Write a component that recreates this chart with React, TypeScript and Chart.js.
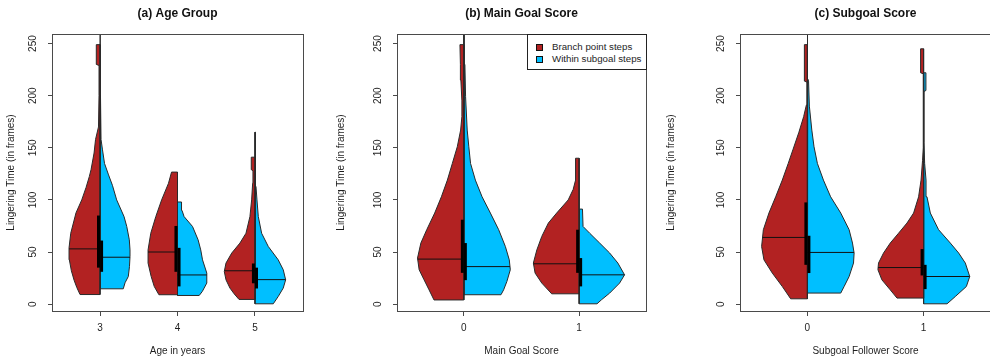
import React, { useEffect, useRef } from 'react';
import Chart from 'chart.js/auto';

const FONT = "'Liberation Sans', Arial, Helvetica, sans-serif";
const RED = '#B22222';
const BLUE = '#00BFFF';
const OUTLINE = '#2a2a2a';
const TEXT = '#1e1e1e';
const FRAME = '#4a4a4a';

const Y_TICKS = [0, 50, 100, 150, 200, 250];

// ---- (a) Age Group ----  shapes: [value, half-width in category units]
const AGE_POS = [3, 4, 5];
const AGE_LABELS = ['3', '4', '5'];
const AGE3_BRANCH: [number, number][] = [[9.2, 0.258], [16, 0.3], [23, 0.335], [32, 0.37], [42.5, 0.396], [54, 0.4], [68, 0.378], [87.6, 0.31], [100, 0.236], [112, 0.18], [122.5, 0.138], [129, 0.116], [145, 0.077], [158, 0.058], [170, 0.02], [200, 0.013], [229, 0.013], [230, 0.048], [249, 0.048]];
const AGE3_WITHIN: [number, number][] = [[14.7, 0.3], [20.5, 0.323], [26.5, 0.365], [36, 0.38], [45.7, 0.387], [52, 0.387], [61.7, 0.378], [74.5, 0.345], [84, 0.31], [100, 0.215], [114, 0.16], [124, 0.11], [135, 0.058], [148, 0.032], [158, 0.013], [200, 0.006], [275, 0.006]];
const AGE4_BRANCH: [number, number][] = [[9, 0.24], [16.9, 0.3], [26.5, 0.34], [39.4, 0.38], [52, 0.38], [68, 0.345], [84, 0.28], [100, 0.205], [116, 0.116], [126.7, 0.077]];
const AGE4_WITHIN: [number, number][] = [[8.3, 0.28], [12.1, 0.32], [20.2, 0.378], [29.8, 0.378], [42.5, 0.323], [52, 0.3], [61.7, 0.266], [74.5, 0.194], [84, 0.085], [90, 0.058], [98, 0.052]];
const AGE5_BRANCH: [number, number][] = [[4.5, 0.206], [10, 0.27], [15.4, 0.323], [23.3, 0.374], [31.3, 0.396], [39.4, 0.374], [49, 0.3], [58.6, 0.194], [68, 0.116], [84, 0.065], [100, 0.043], [116, 0.03], [128, 0.026], [129, 0.048], [141, 0.048]];
const AGE5_WITHIN: [number, number][] = [[0.3, 0.236], [7.3, 0.3], [15.4, 0.365], [23.3, 0.396], [33, 0.365], [42.5, 0.3], [55.3, 0.172], [68, 0.086], [84, 0.043], [100, 0.026], [113, 0.013], [130, 0.006], [165, 0.006]];
const AGE_BRANCH_MEDIAN = [53, 50, 32];
const AGE_BRANCH_Q1 = [35, 31, 20];
const AGE_BRANCH_Q3 = [85, 75, 39];
const AGE_WITHIN_MEDIAN = [45, 28, 23.5];
const AGE_WITHIN_Q1 = [31, 17, 15];
const AGE_WITHIN_Q3 = [61, 54, 35];

// ---- (b) Main Goal Score ----
const MG_POS = [0, 1];
const MG_LABELS = ['0', '1'];
const MG0_BRANCH: [number, number][] = [[4, 0.259], [13.7, 0.302], [23.3, 0.345], [33, 0.388], [44.2, 0.402], [58.6, 0.373], [71.4, 0.322], [87.4, 0.253], [103, 0.195], [119, 0.143], [135, 0.1], [151, 0.057], [167, 0.028], [180, 0.017], [195, 0.017], [215, 0.026], [230, 0.03], [249, 0.034]];
const MG0_WITHIN: [number, number][] = [[9, 0.322], [13.7, 0.345], [21.7, 0.373], [33, 0.403], [42.5, 0.394], [55.3, 0.36], [71.4, 0.302], [87.4, 0.23], [103, 0.158], [119, 0.1], [135, 0.058], [151, 0.043], [167, 0.029], [199, 0.015], [230, 0.009], [232, 0.003], [275, 0.003]];
const MG1_BRANCH: [number, number][] = [[9.9, 0.238], [20.2, 0.324], [29.8, 0.382], [39.4, 0.397], [52, 0.367], [65, 0.324], [77.8, 0.267], [87.4, 0.195], [100, 0.095], [110, 0.052], [119, 0.031], [140, 0.031]];
const MG1_WITHIN: [number, number][] = [[0.3, 0.155], [4.1, 0.193], [10.6, 0.265], [20.2, 0.351], [28.1, 0.394], [39.4, 0.336], [49, 0.265], [58.6, 0.178], [68, 0.092], [74.5, 0.034], [91.2, 0.029]];
const MG_BRANCH_MEDIAN = [43.2, 38.7];
const MG_BRANCH_Q1 = [30, 30];
const MG_BRANCH_Q3 = [81, 71.4];
const MG_WITHIN_MEDIAN = [36, 28.1];
const MG_WITHIN_Q1 = [23, 17];
const MG_WITHIN_Q3 = [58.6, 44.2];

// ---- (c) Subgoal Score ----
const SG_POS = [0, 1];
const SG_LABELS = ['0', '1'];
const SG0_BRANCH: [number, number][] = [[5.1, 0.144], [16.9, 0.216], [29.8, 0.302], [42.5, 0.374], [55.3, 0.394], [71.4, 0.379], [87.4, 0.331], [103, 0.273], [119, 0.216], [135, 0.165], [148, 0.125], [165, 0.073], [180, 0.032], [191, 0.009], [213, 0.004], [214, 0.026], [249, 0.026]];
const SG0_WITHIN: [number, number][] = [[10.6, 0.287], [16.9, 0.316], [26.5, 0.359], [39.4, 0.397], [49, 0.402], [58.6, 0.388], [71.4, 0.359], [87.4, 0.287], [103, 0.2], [119, 0.138], [135, 0.086], [151, 0.057], [167, 0.038], [190, 0.017], [214, 0.01], [216, 0.003], [275, 0.003]];
const SG1_BRANCH: [number, number][] = [[5.8, 0.229], [13.7, 0.287], [23.3, 0.359], [33, 0.393], [39.4, 0.388], [49, 0.345], [58.6, 0.287], [68, 0.216], [77.8, 0.143], [87.4, 0.086], [103, 0.043], [119, 0.022], [138, 0.009], [150, 0.003], [221, 0.003], [222, 0.026], [245, 0.026]];
const SG1_WITHIN: [number, number][] = [[0.3, 0.202], [7.3, 0.273], [16.9, 0.368], [26.5, 0.397], [39.4, 0.359], [49, 0.302], [58.6, 0.23], [71.4, 0.129], [87.4, 0.058], [103, 0.029], [119, 0.021], [135, 0.009], [155, 0.003], [204, 0.003], [205, 0.02], [222, 0.02]];
const SG_BRANCH_MEDIAN = [64, 35.1];
const SG_BRANCH_Q1 = [37.7, 27.5];
const SG_BRANCH_Q3 = [97.6, 52.8];
const SG_WITHIN_MEDIAN = [49.6, 26.5];
const SG_WITHIN_Q1 = [29.8, 14.4];
const SG_WITHIN_Q3 = [65.6, 37.7];

const LEGEND_LABELS = ['Branch point steps', 'Within subgoal steps'];

type Shape = [number, number][];

function widthAt(shape: Shape, v: number) {
  if (v <= shape[0][0]) return shape[0][1];
  for (let i = 1; i < shape.length; i++) {
    const [y0, w0] = shape[i - 1];
    const [y1, w1] = shape[i];
    if (v <= y1) return w0 + ((w1 - w0) * (v - y0)) / (y1 - y0);
  }
  return shape[shape.length - 1][1];
}

function halfPolygon(center: number, shape: Shape, side: number) {
  const pts = [{ x: center, y: shape[0][0] }];
  for (const [y, w] of shape) pts.push({ x: center + side * w, y });
  pts.push({ x: center, y: shape[shape.length - 1][0] });
  pts.push({ x: center, y: shape[0][0] });
  return pts;
}

function buildDatasets(p: any) {
  const ds: any[] = [];
  p.pos.forEach((c: number, i: number) => {
    const halves = [
      { shape: p.branch[i], side: -1, color: RED, med: p.bMed[i], q1: p.bQ1[i], q3: p.bQ3[i] },
      { shape: p.within[i], side: 1, color: BLUE, med: p.wMed[i], q1: p.wQ1[i], q3: p.wQ3[i] },
    ];
    halves.forEach((h) => {
      ds.push({
        data: halfPolygon(c, h.shape, h.side),
        backgroundColor: h.color,
        borderColor: OUTLINE,
        borderWidth: 1,
        fill: 'shape',
        pointRadius: 0,
        tension: 0,
        order: 3,
      });
      ds.push({
        data: [
          { x: c, y: h.med },
          { x: c + h.side * widthAt(h.shape, h.med), y: h.med },
        ],
        borderColor: '#111',
        borderWidth: 1,
        fill: false,
        pointRadius: 0,
        order: 2,
      });
      ds.push({
        data: [
          { x: c + h.side * p.boxOff, y: h.q1 },
          { x: c + h.side * p.boxOff, y: h.q3 },
        ],
        borderColor: '#000',
        borderWidth: 3,
        borderCapStyle: 'butt',
        fill: false,
        pointRadius: 0,
        order: 1,
      });
    });
  });
  return ds;
}

const framePlugin = {
  id: 'frame',
  afterDatasetsDraw(chart: any) {
    const { ctx, chartArea: a } = chart;
    ctx.save();
    ctx.strokeStyle = FRAME;
    ctx.lineWidth = 1;
    ctx.strokeRect(Math.round(a.left) + 0.5, Math.round(a.top) + 0.5, Math.round(a.right - a.left), Math.round(a.bottom - a.top));
    ctx.restore();
  },
};

const PANELS = [
  {
    key: 'a', left: 0, width: 330, chartLeft: 52, chartRight: 303,
    title: '(a) Age Group', xTitle: 'Age in years',
    xMin: 2.38, xMax: 5.62, pos: AGE_POS, labels: AGE_LABELS, boxOff: 0.02,
    branch: [AGE3_BRANCH, AGE4_BRANCH, AGE5_BRANCH], within: [AGE3_WITHIN, AGE4_WITHIN, AGE5_WITHIN],
    bMed: AGE_BRANCH_MEDIAN, bQ1: AGE_BRANCH_Q1, bQ3: AGE_BRANCH_Q3,
    wMed: AGE_WITHIN_MEDIAN, wQ1: AGE_WITHIN_Q1, wQ3: AGE_WITHIN_Q3,
  },
  {
    key: 'b', left: 330, width: 330, chartLeft: 67, chartRight: 316,
    title: '(b) Main Goal Score', xTitle: 'Main Goal Score',
    xMin: -0.58, xMax: 1.58, pos: MG_POS, labels: MG_LABELS, boxOff: 0.013,
    branch: [MG0_BRANCH, MG1_BRANCH], within: [MG0_WITHIN, MG1_WITHIN],
    bMed: MG_BRANCH_MEDIAN, bQ1: MG_BRANCH_Q1, bQ3: MG_BRANCH_Q3,
    wMed: MG_WITHIN_MEDIAN, wQ1: MG_WITHIN_Q1, wQ3: MG_WITHIN_Q3,
  },
  {
    key: 'c', left: 660, width: 360, chartLeft: 80, chartRight: 331,
    title: '(c) Subgoal Score', xTitle: 'Subgoal Follower Score',
    xMin: -0.58, xMax: 1.58, pos: SG_POS, labels: SG_LABELS, boxOff: 0.013,
    branch: [SG0_BRANCH, SG1_BRANCH], within: [SG0_WITHIN, SG1_WITHIN],
    bMed: SG_BRANCH_MEDIAN, bQ1: SG_BRANCH_Q1, bQ3: SG_BRANCH_Q3,
    wMed: SG_WITHIN_MEDIAN, wQ1: SG_WITHIN_Q1, wQ3: SG_WITHIN_Q3,
  },
];

const CHART_TOP = 34;
const CHART_BOTTOM = 311;
const HEIGHT = 360;

function Panel({ p }: { p: any }) {
  const ref = useRef<HTMLCanvasElement | null>(null);
  useEffect(() => {
    if (!ref.current) return;
    const tickFont = { family: FONT, size: 10 };
    const chart = new Chart(ref.current, {
      type: 'line',
      data: { datasets: buildDatasets(p) },
      plugins: [framePlugin],
      options: {
        animation: false,
        responsive: false,
        events: [],
        layout: { padding: { left: 0, right: p.width - p.chartRight, top: 0, bottom: 0 } },
        plugins: {
          legend: { display: false },
          tooltip: { enabled: false },
          title: {
            display: true,
            fullSize: false,
            text: p.title,
            color: '#111',
            font: { family: FONT, size: 12, weight: 'bold', lineHeight: 1.2 },
            padding: { top: 6.1, bottom: CHART_TOP - 6.1 - 14.4 },
          },
        },
        scales: {
          x: {
            type: 'linear',
            min: p.xMin,
            max: p.xMax,
            afterBuildTicks: (axis: any) => {
              axis.ticks = p.pos.map((v: number) => ({ value: v }));
            },
            afterFit: (axis: any) => {
              axis.height = HEIGHT - CHART_BOTTOM;
            },
            grid: { display: true, drawOnChartArea: false, drawTicks: true, tickLength: 5, color: FRAME },
            border: { display: false },
            ticks: {
              font: tickFont,
              color: TEXT,
              padding: 6.5,
              maxRotation: 0,
              autoSkip: false,
              callback: (_v: any, i: number) => p.labels[i],
            },
            title: {
              display: true,
              text: p.xTitle,
              color: TEXT,
              font: { family: FONT, size: 10, lineHeight: 1.2 },
              padding: { top: 0, bottom: 2.3 },
            },
          },
          y: {
            type: 'linear',
            min: -6.6,
            max: 259.2,
            afterBuildTicks: (axis: any) => {
              axis.ticks = Y_TICKS.map((v) => ({ value: v }));
            },
            afterFit: (axis: any) => {
              axis.width = p.chartLeft;
            },
            grid: { display: true, drawOnChartArea: false, drawTicks: true, tickLength: 4, color: FRAME },
            border: { display: false },
            ticks: {
              font: tickFont,
              color: TEXT,
              padding: 6,
              minRotation: 90,
              maxRotation: 90,
              crossAlign: 'center',
              autoSkip: false,
              callback: (v: any) => String(v),
            },
            title: {
              display: true,
              text: 'Lingering Time (in frames)',
              color: TEXT,
              font: { family: FONT, size: 10, lineHeight: 1.2 },
              padding: { top: 5.7, bottom: 0 },
            },
          },
        },
      },
    } as any);
    return () => chart.destroy();
  }, [p]);
  return (
    <canvas
      ref={ref}
      width={p.width}
      height={HEIGHT}
      style={{ position: 'absolute', left: p.left, top: 0, width: p.width, height: HEIGHT }}
    />
  );
}

function Legend() {
  const colors = [RED, BLUE];
  return (
    <div
      style={{
        position: 'absolute',
        left: 527,
        top: 34,
        width: 120,
        height: 36,
        boxSizing: 'border-box',
        border: '1px solid #222',
        background: '#fff',
        fontFamily: FONT,
        fontSize: '9.7px',
        color: TEXT,
      }}
    >
      {LEGEND_LABELS.map((label, i) => (
        <React.Fragment key={label}>
          <div
            style={{
              position: 'absolute',
              left: 8,
              top: 8.5 + i * 12,
              width: 5,
              height: 5,
              background: colors[i],
              border: '1px solid #111',
            }}
          />
          <div
            style={{
              position: 'absolute',
              left: 24,
              top: 5.5 + i * 12,
              lineHeight: '12px',
              whiteSpace: 'nowrap',
            }}
          >
            {label}
          </div>
        </React.Fragment>
      ))}
    </div>
  );
}

export default function App() {
  return (
    <div
      style={{
        position: 'fixed',
        left: 0,
        top: 0,
        width: 990,
        height: HEIGHT,
        overflow: 'hidden',
        background: '#fff',
      }}
    >
      {PANELS.map((p) => (
        <Panel key={p.key} p={p} />
      ))}
      <Legend />
    </div>
  );
}
